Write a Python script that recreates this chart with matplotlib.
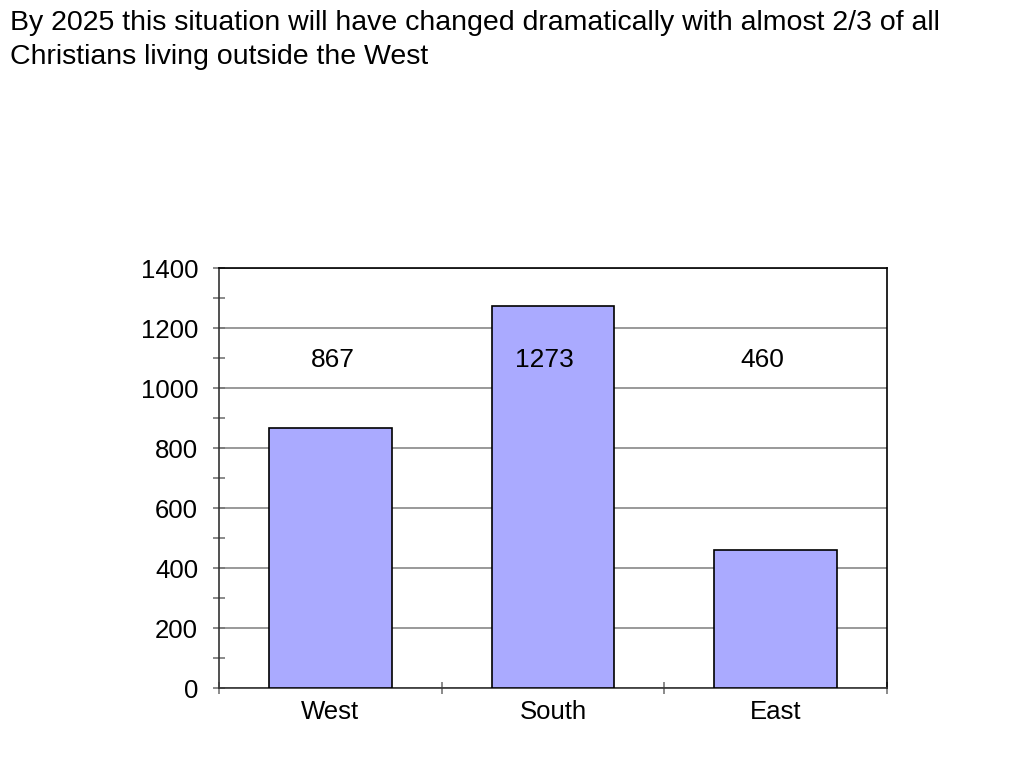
import matplotlib
matplotlib.use("Agg")
import matplotlib.pyplot as plt
from matplotlib.ticker import MultipleLocator, FixedLocator

plt.rcParams['font.family'] = ['Liberation Sans', 'DejaVu Sans']

categories = ["West", "South", "East"]
values = [867, 1273, 460]
title = "By 2025 this situation will have changed dramatically with almost 2/3 of all\nChristians living outside the West"

fig = plt.figure(figsize=(10.24, 7.68), dpi=100)
ax = fig.add_axes([219/1024, 1-688/768, (887-219)/1024, (688-268)/768])

x = list(range(len(categories)))
ax.bar(x, values, width=0.55, color="#AAAAFF", edgecolor="black", linewidth=1.2, zorder=3)
label_shift = [0.01, -0.04, -0.06]
for xi, v, s in zip(x, values, label_shift):
    ax.text(xi + s, 1093, str(v), ha="center", va="center", fontsize=19, zorder=4)

ax.set_xlim(-0.5, 2.5)
ax.set_ylim(0, 1400)
ax.yaxis.set_major_locator(MultipleLocator(200))
ax.yaxis.set_minor_locator(MultipleLocator(100))
ax.grid(axis="y", which="major", color="#888888", linewidth=1.2, zorder=0)
ax.set_xticks(x)
ax.set_xticklabels(categories)
ax.xaxis.set_minor_locator(FixedLocator([-0.5, 0.5, 1.5, 2.5]))
ax.tick_params(axis="x", which="major", length=0, labelsize=18.5, pad=8.5)
ax.tick_params(axis="x", which="minor", length=8, direction="inout", color="#777777", width=1.2)
ax.tick_params(axis="y", which="both", length=8, direction="inout", color="#777777", width=1.2, labelsize=18.5)
ax.tick_params(axis="y", which="major", pad=11)

for side in ["top", "right"]:
    ax.spines[side].set_color("black")
    ax.spines[side].set_linewidth(1.2)
for side in ["left", "bottom"]:
    ax.spines[side].set_color("#333333")
    ax.spines[side].set_linewidth(1.2)

fig.text(10/1024, 1-10/768, title, ha="left", va="top", fontsize=20.5, linespacing=1.42)

fig.savefig("out.png", dpi=100)
